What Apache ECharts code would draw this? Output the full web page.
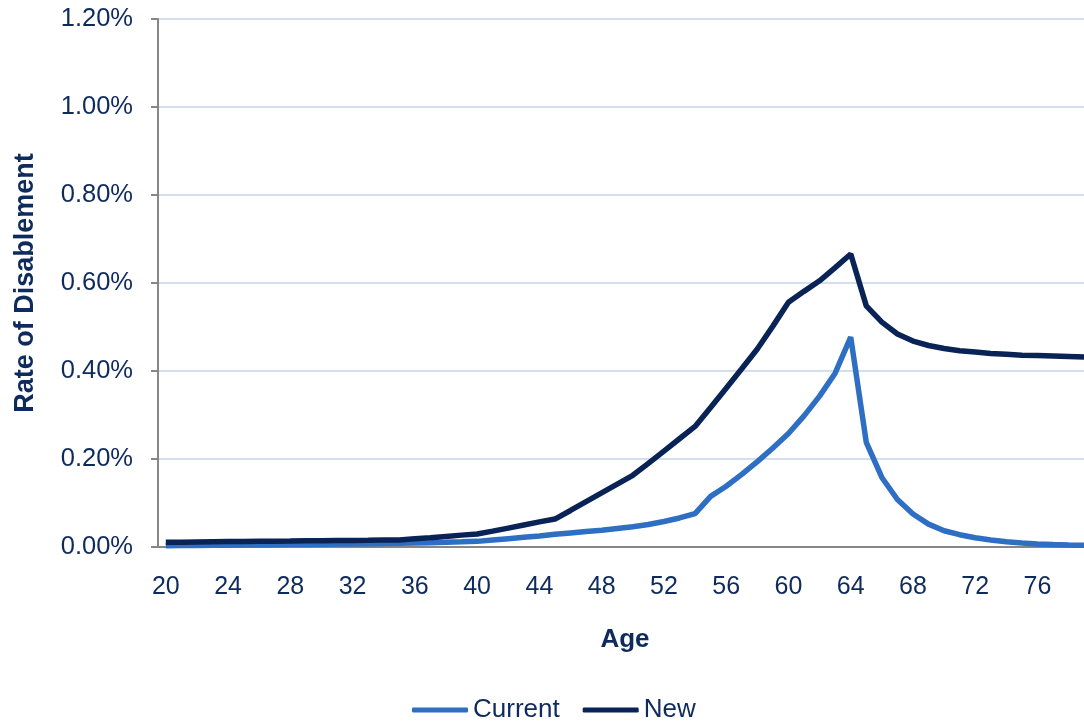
<!DOCTYPE html>
<html>
<head>
<meta charset="utf-8">
<title>Rate of Disablement</title>
<script src="https://cdn.jsdelivr.net/npm/echarts@6/dist/echarts.min.js"></script>
<style>
  html, body { margin: 0; padding: 0; background: #fff; overflow: hidden; }
  /* the original picture is cut off on the right, so the canvas is a bit wider than the window */
  #chart { width: 1092px; height: 721px; }
</style>
</head>
<body>
<div id="chart"></div>
<script>
// ages 20..79
let ages = []
for (let a = 20; a <= 79; a++) ages.push(String(a))

// rate of disablement, in %
let current = [
  0.003, 0.0033, 0.0036, 0.0039, 0.0042, 0.0045, 0.0048, 0.0051, 0.0055, 0.0059,
  0.0063, 0.0067, 0.0071, 0.0076, 0.0081, 0.0086, 0.0092, 0.0099, 0.0107, 0.0117,
  0.0128, 0.016, 0.019, 0.022, 0.025, 0.029, 0.032, 0.035, 0.038, 0.042,
  0.046, 0.051, 0.058, 0.066, 0.076, 0.115, 0.138, 0.165, 0.194, 0.225,
  0.258, 0.298, 0.343, 0.395, 0.477, 0.238, 0.158, 0.108, 0.075, 0.052,
  0.037, 0.028, 0.021, 0.016, 0.012, 0.009, 0.007, 0.0055, 0.0045, 0.0038
]
let newRates = [
  0.0107, 0.011, 0.0115, 0.012, 0.0123, 0.0126, 0.013, 0.0133, 0.0136, 0.014,
  0.0143, 0.0147, 0.015, 0.0153, 0.0157, 0.016, 0.0185, 0.021, 0.024, 0.027,
  0.0295, 0.036, 0.043, 0.05, 0.057, 0.0635, 0.083, 0.103, 0.123, 0.143,
  0.163, 0.19, 0.218, 0.246, 0.274, 0.317, 0.361, 0.405, 0.45, 0.502,
  0.556, 0.581, 0.605, 0.635, 0.666, 0.548, 0.511, 0.484, 0.468, 0.458,
  0.451, 0.446, 0.443, 0.44, 0.438, 0.436, 0.435, 0.434, 0.433, 0.432
]

let textColor = '#0f2a5c'
let font = 'Liberation Sans, Arial, sans-serif'

let chart = echarts.init(document.getElementById('chart'), null, { renderer: 'canvas' })
chart.setOption({
  animation: false,
  textStyle: { fontFamily: font },
  grid: {
    left: 158,
    right: 0,
    top: 19,
    bottom: 174
  },
  legend: {
    left: 412,
    top: 697,
    padding: 0,
    icon: 'roundRect',
    itemWidth: 56,
    itemHeight: 5,
    itemGap: 23,
    textStyle: { color: textColor, fontSize: 26, fontFamily: font },
    data: ['Current', 'New']
  },
  xAxis: {
    type: 'category',
    data: ages,
    boundaryGap: true,
    name: 'Age',
    nameLocation: 'middle',
    nameGap: 80,
    nameTextStyle: { color: textColor, fontSize: 26, fontWeight: 'bold', fontFamily: font },
    axisLine: { lineStyle: { color: '#868686', width: 2 } },
    axisTick: { interval: 0, length: 6, lineStyle: { color: '#868686', width: 2 } },
    axisLabel: { interval: 3, margin: 28, color: textColor, fontSize: 25, fontFamily: font },
    splitLine: { show: false }
  },
  yAxis: {
    type: 'value',
    min: 0,
    max: 1.2,
    interval: 0.2,
    name: 'Rate of Disablement',
    nameLocation: 'middle',
    nameGap: 119,
    nameTextStyle: { color: textColor, fontSize: 27, fontWeight: 'bold', fontFamily: font },
    axisLine: { show: true, lineStyle: { color: '#868686', width: 2 } },
    axisTick: { show: true, length: 7, lineStyle: { color: '#868686', width: 2 } },
    axisLabel: {
      margin: 25,
      color: textColor,
      fontSize: 25.5,
      fontFamily: font,
      formatter: v => v.toFixed(2) + '%'
    },
    splitLine: { lineStyle: { color: '#c3d4ec', width: 1.5 } }
  },
  series: [
    {
      name: 'Current',
      type: 'line',
      data: current,
      symbol: 'none',
      color: '#2e6fc4',
      lineStyle: { width: 5.5, color: '#2e6fc4' }
    },
    {
      name: 'New',
      type: 'line',
      data: newRates,
      symbol: 'none',
      color: '#0a2357',
      lineStyle: { width: 5.5, color: '#0a2357' }
    }
  ]
})
</script>
</body>
</html>
